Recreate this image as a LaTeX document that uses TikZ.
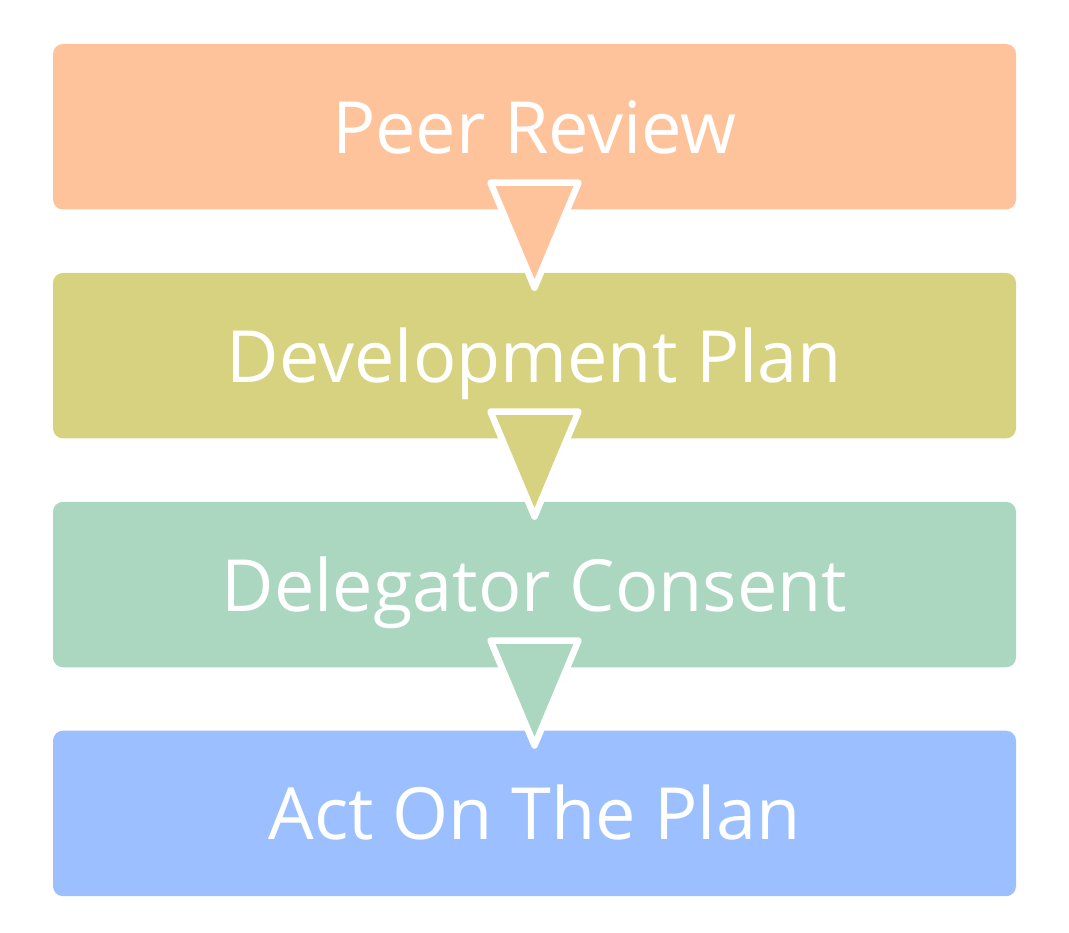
\documentclass[tikz,border=0pt]{standalone}
\usepackage{fontspec}
\setmainfont{Open Sans}
\usepackage{xcolor}
\usepackage{tikz}
\usetikzlibrary{positioning}
\usetikzlibrary{calc}

\definecolor{reviewfill}{HTML}{FFC39B}
\definecolor{planfill}{HTML}{D7D27F}
\definecolor{consentfill}{HTML}{ABD6C0}
\definecolor{actfill}{HTML}{9CC0FF}

\begin{document}
\begin{tikzpicture}[x=1pt, y=-1pt, node distance=63pt, stage/.style={rectangle, rounded corners=10pt, minimum width=963pt, minimum height=165.5pt, inner sep=0pt, text=white, font=\fontsize{72}{80}\selectfont, text height=53pt, text depth=0pt}, flowtri/.style={draw=white, line width=6.5pt, line join=round}]
  \useasboundingbox (0,0) rectangle (1069,933);
  \node[stage, fill=reviewfill](review) at (534.5,126.75){Peer Review};
  \node[stage, fill=planfill, below=of review](plan){Development Plan};
  \node[stage, fill=consentfill, below=of plan](consent){Delegator Consent};
  \node[stage, fill=actfill, below=of consent](act){Act On The Plan};
  % arrows between the stages
  \foreach \from/\col in {review/reviewfill, plan/planfill, consent/consentfill}
    \filldraw[flowtri, fill=\col] ($(\from.south)+(-44,-27)$) -- ($(\from.south)+(44,-27)$) -- ($(\from.south)+(0,78)$) -- cycle;
\end{tikzpicture}
\end{document}
